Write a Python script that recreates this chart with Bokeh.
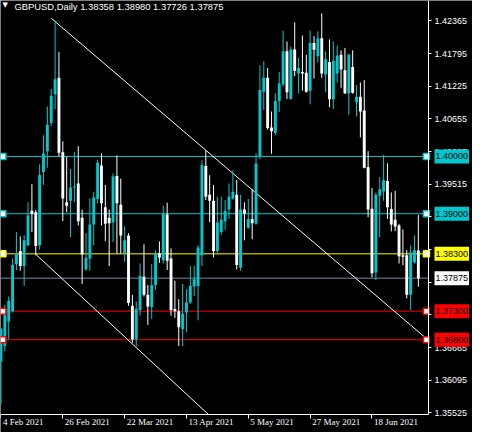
from bokeh.plotting import figure
from bokeh.models import Range1d, FixedTicker, Label, ColumnDataSource, PrintfTickFormatter
from bokeh.embed import file_html
from bokeh.resources import INLINE
import pandas as pd

# ---------------- data ----------------
dates = pd.bdate_range("2021-02-04", "2021-07-06")

opens = [1.36418, 1.36690, 1.37118, 1.37296, 1.38120, 1.38351, 1.38086, 1.38449, 1.39054, 1.39026,
         1.38449, 1.39729, 1.40092, 1.40582, 1.41084, 1.41372, 1.40075, 1.39199, 1.39227, 1.39458,
         1.39527, 1.38928, 1.38028, 1.38218, 1.38812, 1.39256, 1.39844, 1.39112, 1.38928, 1.38847,
         1.39660, 1.39158, 1.38316, 1.38622, 1.37394, 1.36806, 1.37320, 1.37901, 1.37584, 1.37371,
         1.37757, 1.38305, 1.38189, 1.38985, 1.38218, 1.37336, 1.37296, 1.36990, 1.37278, 1.37451,
         1.37728, 1.37740, 1.38276, 1.39833, 1.39331, 1.39227, 1.38351, 1.38680, 1.38870, 1.39072,
         1.39268, 1.39331, 1.38057, 1.39072, 1.38755, 1.38910, 1.38824, 1.40006, 1.41130, 1.41372,
         1.40507, 1.40409, 1.40969, 1.41257, 1.41834, 1.41003, 1.41868, 1.41447, 1.41476, 1.41459,
         1.41148, 1.41978, 1.41747, 1.42064, 1.41430, 1.41649, 1.40998, 1.41447, 1.41776, 1.41505,
         1.41101, 1.41563, 1.40946, 1.41044, 1.40801, 1.39816, 1.39089, 1.37976, 1.39314, 1.39389,
         1.39573, 1.39083, 1.38893, 1.38795, 1.38276, 1.38276, 1.37584, 1.38149, 1.38358]
highs = [1.37000, 1.37411, 1.37555, 1.38218, 1.38680, 1.38605, 1.38622, 1.39199, 1.39516, 1.39066,
         1.39862, 1.40369, 1.40871, 1.41176, 1.42370, 1.41822, 1.40265, 1.39994, 1.39781, 1.40075,
         1.40179, 1.39072, 1.38662, 1.39268, 1.39383, 1.39942, 1.40052, 1.39504, 1.39072, 1.39706,
         1.40017, 1.39614, 1.38778, 1.38662, 1.37584, 1.37469, 1.38132, 1.38467, 1.37757, 1.38120,
         1.38363, 1.38518, 1.39141, 1.39193, 1.38397, 1.37832, 1.37509, 1.37774, 1.37682, 1.38086,
         1.38086, 1.38449, 1.39937, 1.40104, 1.39671, 1.39504, 1.39297, 1.39297, 1.39239, 1.39527,
         1.39758, 1.39591, 1.39331, 1.39199, 1.39256, 1.39429, 1.40052, 1.41592, 1.41661, 1.41545,
         1.40784, 1.41101, 1.41476, 1.42197, 1.42007, 1.41920, 1.42341, 1.41718, 1.42110, 1.41776,
         1.42197, 1.42099, 1.42185, 1.42497, 1.41834, 1.42041, 1.42007, 1.41937, 1.41851, 1.41891,
         1.41793, 1.41851, 1.41246, 1.41292, 1.41332, 1.40092, 1.39447, 1.39372, 1.39643, 1.40023,
         1.39879, 1.39372, 1.39400, 1.38824, 1.38726, 1.38363, 1.38449, 1.38622, 1.38980]
lows = [1.35668, 1.36600, 1.36806, 1.37278, 1.38017, 1.38005, 1.37740, 1.38432, 1.38680, 1.38276,
        1.38374, 1.39504, 1.39804, 1.40525, 1.40825, 1.40006, 1.38870, 1.39026, 1.38593, 1.39199,
        1.38795, 1.37774, 1.38005, 1.38005, 1.38449, 1.39181, 1.38795, 1.38524, 1.38086, 1.38507,
        1.38305, 1.38305, 1.38161, 1.37394, 1.36748, 1.36690, 1.37221, 1.37555, 1.37059, 1.37163,
        1.37670, 1.38143, 1.38132, 1.38017, 1.37221, 1.37181, 1.36690, 1.36690, 1.36933, 1.37428,
        1.37567, 1.37140, 1.38086, 1.39239, 1.38853, 1.38236, 1.38316, 1.38634, 1.38720, 1.38910,
        1.39245, 1.38028, 1.38005, 1.38536, 1.38737, 1.38553, 1.38812, 1.39948, 1.40813, 1.40467,
        1.40046, 1.40369, 1.40773, 1.41217, 1.41003, 1.40992, 1.41401, 1.41101, 1.41148, 1.41113,
        1.40911, 1.41361, 1.41638, 1.41372, 1.41119, 1.40859, 1.40825, 1.41286, 1.41199, 1.41090,
        1.40727, 1.41096, 1.40698, 1.40334, 1.39792, 1.38939, 1.37890, 1.37843, 1.38593, 1.39227,
        1.38910, 1.38691, 1.38697, 1.38132, 1.38103, 1.37521, 1.37313, 1.38132, 1.37726]
closes = [1.36992, 1.37354, 1.37480, 1.38103, 1.38293, 1.38086, 1.38536, 1.38968, 1.38997, 1.38437,
          1.39677, 1.40052, 1.40554, 1.41061, 1.41349, 1.40063, 1.39268, 1.39141, 1.39458, 1.39475,
          1.38870, 1.38288, 1.38230, 1.38812, 1.39285, 1.39890, 1.39181, 1.38824, 1.38835, 1.39648,
          1.39181, 1.38622, 1.38536, 1.37440, 1.36806, 1.37342, 1.37918, 1.37584, 1.37382, 1.37757,
          1.38305, 1.38236, 1.38997, 1.38178, 1.37320, 1.37296, 1.37019, 1.37255, 1.37451, 1.37745,
          1.37855, 1.38409, 1.39850, 1.39296, 1.39227, 1.38351, 1.38847, 1.38893, 1.39054, 1.39297,
          1.39383, 1.38103, 1.39072, 1.38997, 1.38910, 1.38835, 1.39879, 1.41159, 1.41372, 1.40496,
          1.40438, 1.40969, 1.41274, 1.41834, 1.41119, 1.41868, 1.41493, 1.41545, 1.41447, 1.41130,
          1.41978, 1.41862, 1.42064, 1.41447, 1.41695, 1.40998, 1.41666, 1.41764, 1.41516, 1.41101,
          1.41776, 1.41113, 1.41044, 1.40784, 1.39804, 1.39072, 1.37959, 1.39331, 1.39429, 1.39585,
          1.39112, 1.38812, 1.38778, 1.38259, 1.38247, 1.37584, 1.38322, 1.38363, 1.37875]

price_ticks = [1.35525, 1.36095, 1.36665, 1.37235, 1.37805, 1.38375, 1.38945,
               1.39515, 1.40085, 1.40655, 1.41225, 1.41795, 1.42365]
date_tick_dates = ["2021-02-04", "2021-02-26", "2021-03-22", "2021-04-13",
                   "2021-05-05", "2021-05-27", "2021-06-18"]
date_tick_labels = ["4 Feb 2021", "26 Feb 2021", "22 Mar 2021", "13 Apr 2021",
                    "5 May 2021", "27 May 2021", "18 Jun 2021"]

title_text = "GBPUSD,Daily  1.38358 1.38980 1.37726 1.37875"

levels = [1.40000, 1.39000, 1.38300, 1.37300, 1.36800]
level_texts = ["1.40000", "1.39000", "1.38300", "1.37300", "1.36800"]
current_price = 1.37875
current_text = "1.37875"

# trend lines (bar index, price)
upper_x = [13.0, 110.1]
upper_y = [1.42412, 1.36820]
lower_x = [8.875, 53.67]
lower_y = [1.38300, 1.35496]

# ---------------- styles / layout ----------------
BULL = "#00C8CC"
BEAR = "#FFFFFF"
CYAN = "#00C8CC"
YELLOW = "#FFFF00"
RED = "#FF0000"
GREY = "#778899"
level_colors = [CYAN, CYAN, YELLOW, RED, RED]
FONT = "Liberation Sans"

W, H = 472, 432
CHART_W = 428                       # px of the frame used by candles, rest = price scale strip
PX_PER_PRICE = 5729.0               # vertical scale (px per 1.0 of price)
x_lo, axis_x = -0.125, 110.625      # bar-index span of the candle area
x_hi = x_lo + (axis_x - x_lo) * W / CHART_W
y_hi = 1.42722                      # price at the top of the frame
y_lo = y_hi - H / PX_PER_PRICE
chart_bottom = 1.35496              # price where the time axis line sits
date_label_y = y_hi - 416.5 / PX_PER_PRICE

n = len(opens)
idx = list(range(n))
date_pos = {d.strftime("%Y-%m-%d"): i for i, d in enumerate(dates)}

p = figure(width=W, height=H, output_backend="svg", toolbar_location=None,
           x_range=Range1d(x_lo, x_hi), y_range=Range1d(y_lo, y_hi),
           y_axis_location="right", x_axis_location="below", min_border=0)
p.background_fill_color = "black"
p.border_fill_color = "black"
p.outline_line_color = None
p.xgrid.visible = False
p.ygrid.visible = False

for ax in (p.xaxis[0], p.yaxis[0]):
    ax.axis_line_color = "white"
    ax.axis_line_width = 1
    ax.major_tick_line_color = "white"
    ax.minor_tick_line_color = None
    ax.major_tick_in = 0
    ax.major_label_text_color = "white"
    ax.major_label_text_font = FONT
    ax.major_label_text_font_size = "9px"

yax = p.yaxis[0]
yax.fixed_location = axis_x
yax.bounds = (chart_bottom, y_hi)
yax.ticker = FixedTicker(ticks=price_ticks)
yax.formatter = PrintfTickFormatter(format="%.5f")
yax.major_tick_out = 3
yax.major_label_standoff = 3

xt = [date_pos[d] for d in date_tick_dates]
xax = p.xaxis[0]
xax.fixed_location = chart_bottom
xax.bounds = (x_lo, axis_x)
xax.ticker = FixedTicker(ticks=xt)
xax.major_label_overrides = {t: "" for t in xt}
xax.major_tick_out = 4

# date labels, left-aligned just right of each tick
p.text(x=xt, y=[date_label_y] * len(xt), text=date_tick_labels, x_offset=2,
       text_align="left", text_baseline="top", text_color="white",
       text_font=FONT, text_font_size="9px")

# horizontal levels (stop at the price scale)
p.segment(x0=[x_lo] * len(levels), y0=levels, x1=[axis_x] * len(levels), y1=levels,
          line_color=level_colors, line_width=1)
p.segment(x0=[x_lo], y0=[current_price], x1=[axis_x], y1=[current_price],
          line_color=GREY, line_width=1)

# trend lines
p.line(upper_x, upper_y, line_color="white", line_width=1)
p.line(lower_x, lower_y, line_color="white", line_width=1)

# candles
min_h = 0.00012
body_top, body_bot, colors = [], [], []
for o, c in zip(opens, closes):
    t, b = max(o, c), min(o, c)
    if t - b < min_h:
        m = (t + b) / 2
        t, b = m + min_h / 2, m - min_h / 2
    body_top.append(t)
    body_bot.append(b)
    colors.append(BULL if c > o else BEAR)

src = ColumnDataSource(dict(x=idx, high=highs, low=lows, top=body_top, bottom=body_bot, color=colors))
p.segment(x0="x", y0="low", x1="x", y1="high", line_color="color", line_width=1, source=src)
p.vbar(x="x", width=0.75, top="top", bottom="bottom", fill_color="color", line_color=None, source=src)

# handle squares
p.scatter([0.5] * len(levels), levels, marker="square", size=6, fill_color="white",
          line_color=level_colors, line_width=1.5)
p.scatter([110.1] * len(levels), levels, marker="square", size=6, fill_color="white",
          line_color=level_colors, line_width=1.5)

# price boxes on the scale
for lv, txt, col in zip(levels + [current_price], level_texts + [current_text], level_colors + ["white"]):
    p.add_layout(Label(x=axis_x, y=lv, x_offset=6, text=txt, text_color="black",
                       text_font=FONT, text_font_size="9px", text_baseline="middle",
                       text_align="left", background_fill_color=col, padding=(1, 4)))

# title
p.add_layout(Label(x=x_lo, y=y_hi, x_offset=14, y_offset=0, text=title_text, text_color="white",
                   text_font=FONT, text_font_size="9.4px", text_baseline="top",
                   text_align="left"))
p.add_layout(Label(x=x_lo, y=y_hi, x_offset=2, y_offset=0, text="\u25BC", text_color="white",
                   text_font="DejaVu Sans", text_font_size="7px", text_baseline="top",
                   text_align="left"))

open("out.html", "w").write(file_html(p, INLINE))
